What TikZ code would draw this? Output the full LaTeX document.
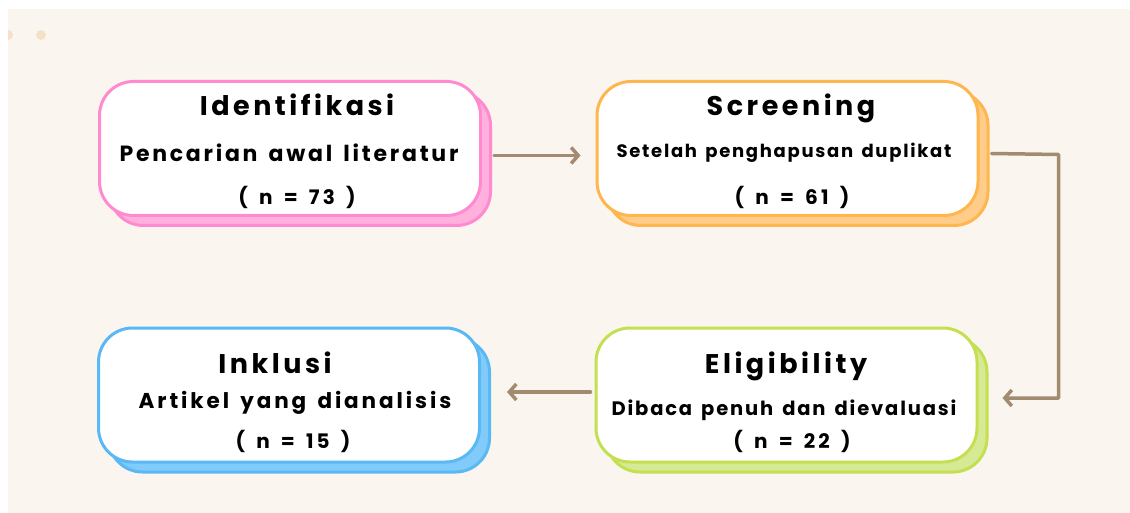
\documentclass[tikz,border=0pt]{standalone}
\usepackage{fontspec}
\setmainfont{Poppins}[WordSpace=1.5]
\usetikzlibrary{arrows.meta,shadows}

\definecolor{cream}{RGB}{250,245,239}
\definecolor{dotc}{RGB}{245,225,200}
\definecolor{arrowc}{RGB}{163,139,112}
\definecolor{pinkB}{RGB}{255,138,208}
\definecolor{pinkS}{RGB}{255,176,221}
\definecolor{orangeB}{RGB}{255,183,77}
\definecolor{orangeS}{RGB}{255,204,138}
\definecolor{greenB}{RGB}{196,224,80}
\definecolor{greenS}{RGB}{214,234,150}
\definecolor{blueB}{RGB}{90,184,245}
\definecolor{blueS}{RGB}{128,203,250}

\newcommand\spaced[2]{\fontsize{#1}{#1}\selectfont\bfseries\addfontfeatures{LetterSpace=#2}}

\tikzset{
	stage/.style={draw=#1B,fill=white,line width=3pt,rounded corners=34pt,
		minimum width=381pt,minimum height=134pt,inner sep=0pt,
		general shadow={fill=#1S,draw=#1B,line width=3pt,shadow xshift=10pt,shadow yshift=-10pt}},
	heading/.style={anchor=base,inner sep=0pt,font=\spaced{27}{13}},
	detail/.style={anchor=base,inner sep=0pt,font=\spaced{22}{12.5}},
	count/.style={anchor=base,inner sep=0pt,font=\spaced{20}{16}},
	flow/.style={draw=arrowc,line width=3.5pt,line cap=round,line join=round,
		-{Straight Barb[length=7pt,width=16pt]}}
}

\begin{document}
\begin{tikzpicture}[x=1pt,y=-1pt]
	% canvas
	\useasboundingbox (0,0) rectangle (1130,513);
	\fill[white] (0,0) rectangle (1130,513);
	\fill[cream] (8,9) rectangle (1130,513);
	\begin{scope}
		\clip (8,9) rectangle (1130,513);
		\fill[dotc] (8,35) circle (5);
		\fill[dotc] (41,35) circle (5);
	\end{scope}

	% stages
	\node[stage=pink] (ident) at (290,148.5) {};
	\node[stage=orange] (screen) at (787.5,148.5) {};
	\node[stage=green] (elig) at (786.5,395) {};
	\node[stage=blue] (incl) at (289,395) {};

	\node[heading] (ident-t) at (297,116) {Identifikasi};
	\node[detail] (ident-s) at (289,162) {Pencarian awal literatur};
	\node[count] (ident-n) at (297,205) {( n = 73 )};

	\node[heading] (screen-t) at (791,116) {Screening};
	\node[detail,font=\spaced{18}{9.5}] (screen-s) at (784,158) {Setelah penghapusan duplikat};
	\node[count] (screen-n) at (792,205) {( n = 61 )};

	\node[heading] (elig-t) at (786,373) {Eligibility};
	\node[detail,font=\spaced{19.5}{9.5}] (elig-s) at (784,415) {Dibaca penuh dan dievaluasi};
	\node[count] (elig-n) at (792,448) {( n = 22 )};

	\node[heading] (incl-t) at (275,373) {Inklusi};
	\node[detail,font=\spaced{21.5}{13.5}] (incl-s) at (295,408) {Artikel yang dianalisis};
	\node[count] (incl-n) at (293,448) {( n = 15 )};

	% flow
	\draw[flow] ([xshift=12pt,yshift=-7pt]ident.east) -- ([xshift=-15pt,yshift=-7pt]screen.west);
	\draw[flow] ([xshift=12pt,yshift=-5pt]screen.east) -- ++(67,1) |- ([xshift=24pt,yshift=-3pt]elig.east);
	\draw[flow] ([xshift=-4pt,yshift=3pt]elig.west) -- ([xshift=26pt,yshift=3pt]incl.east);
\end{tikzpicture}
\end{document}
